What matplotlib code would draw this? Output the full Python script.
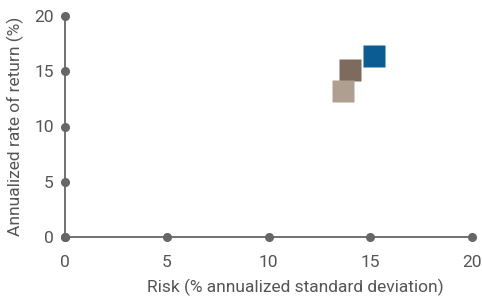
import matplotlib
matplotlib.use("Agg")
import matplotlib.pyplot as plt

risk = [15.2, 14.0, 13.65]
ret = [16.4, 15.1, 13.2]
colors = ["#0a5d93", "#7e6b5d", "#ae9f90"]
xticks = [0, 5, 10, 15, 20]
yticks = [0, 5, 10, 15, 20]

plt.rcParams['font.family'] = ['Roboto', 'DejaVu Sans']
fig = plt.figure(figsize=(4.82, 2.97), dpi=100)
ax = fig.add_axes([65/482, 60/297, 407/482, 221/297])
ax.set_xlim(0, 20)
ax.set_ylim(0, 20)
for s in ["top", "right"]:
    ax.spines[s].set_visible(False)
for s in ["left", "bottom"]:
    ax.spines[s].set_color("#666666")
    ax.spines[s].set_linewidth(1.3)
ax.set_xticks(xticks)
ax.set_yticks(yticks)
ax.tick_params(length=0, labelsize=12.5, labelcolor="#555555", pad=8)
ax.tick_params(axis="x", pad=13)
ax.plot(xticks, [0]*len(xticks), "o", color="#666666", ms=5.5, clip_on=False, zorder=3)
ax.plot([0]*len(yticks), yticks, "o", color="#666666", ms=5.5, clip_on=False, zorder=3)
for x, y, c in zip(risk, ret, colors):
    ax.plot([x], [y], "s", color=c, ms=15.8, mec="none", zorder=4)
ax.set_xlabel("Risk (% annualized standard deviation)", fontsize=12.5, color="#555555")
ax.set_ylabel("Annualized rate of return (%)", fontsize=12.5, color="#555555")
ax.xaxis.set_label_coords(0.565, -0.19)
ax.yaxis.set_label_coords(-0.1, 0.5)
fig.savefig("out.png", dpi=100)
